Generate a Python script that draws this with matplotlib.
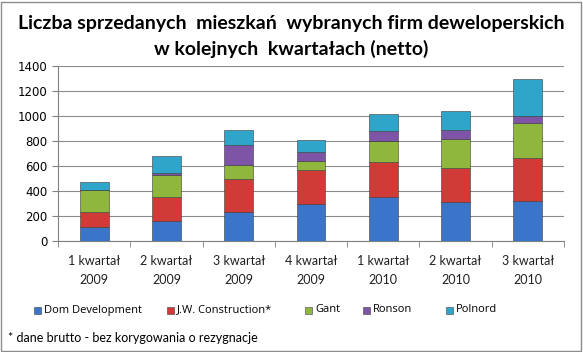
import numpy as np
import matplotlib.pyplot as plt
from matplotlib.patches import Rectangle

# Quarter labels and units sold per developer
quarters = ["1 kwartał\n2009", "2 kwartał\n2009", "3 kwartał\n2009", "4 kwartał\n2009",
            "1 kwartał\n2010", "2 kwartał\n2010", "3 kwartał\n2010"]
dom_development = [110, 160, 235, 300, 350, 315, 323]
jw_construction = [120, 190, 260, 265, 283, 273, 345]
gant = [175, 178, 110, 75, 170, 231, 278]
ronson = [5, 20, 160, 70, 80, 69, 53]
polnord = [60, 135, 120, 100, 130, 156, 297]

series = [
    ("Dom Development", dom_development, "#3a75c9"),
    ("J.W. Construction*", jw_construction, "#d13b37"),
    ("Gant", gant, "#8fb73e"),
    ("Ronson", ronson, "#7e54a6"),
    ("Polnord", polnord, "#2fa6c9"),
]

W, H = 583, 352
fig = plt.figure(figsize=(W / 100, H / 100), dpi=100)
ax = fig.add_axes([58 / W, 1 - 241 / H, (564 - 58) / W, (241 - 66) / H])

x = np.arange(len(quarters))
bottom = np.zeros(len(quarters))
for name, vals, color in series:
    ax.bar(x, vals, bottom=bottom, width=0.4, color=color,
           edgecolor="#3b3b3b", linewidth=0.4, zorder=3)
    bottom += np.array(vals)

ax.set_ylim(0, 1400)
ax.set_yticks(range(0, 1401, 200))
ax.set_xlim(-0.5, len(quarters) - 0.5)
ax.yaxis.grid(True, color="#8c8c8c", linewidth=0.8, zorder=0)
ax.set_xticks(np.arange(len(quarters) + 1) - 0.5, minor=True)
ax.set_xticks(x)
ax.set_xticklabels(quarters, fontfamily="Lato", fontsize=9, linespacing=1.7, color="#202020")
ax.tick_params(axis="x", which="major", length=0, pad=10)
ax.tick_params(axis="x", which="minor", length=4, color="#808080")
ax.tick_params(axis="y", labelsize=8.5, length=4, color="#808080")
for s in ["top", "right"]:
    ax.spines[s].set_visible(False)
ax.spines["left"].set_color("#808080")
ax.spines["bottom"].set_color("#808080")

fig.text(0.5, 1 - 24 / H, "Liczba sprzedanych  mieszkań  wybranych firm deweloperskich",
         ha="center", va="center", fontsize=14, fontweight="bold", fontfamily="Lato")
fig.text(0.5, 1 - 49 / H, "w kolejnych  kwartałach (netto)",
         ha="center", va="center", fontsize=14, fontweight="bold", fontfamily="Lato")

# legend laid out like the Excel original (uneven spacing)
legend_x = [34, 167, 305, 363, 446]
ly = 1 - 310 / H
for (name, _, color), lx in zip(series, legend_x):
    fig.patches.append(Rectangle((lx / W, ly - 3.5 / H), 7 / W, 7 / H, transform=fig.transFigure,
                                 facecolor=color, edgecolor="#404040", linewidth=0.4))
    fig.text((lx + 10) / W, ly, name, ha="left", va="center", fontsize=8, fontfamily="Open Sans")

fig.text(8 / W, 1 - 338 / H, "* dane brutto - bez korygowania o rezygnacje",
         ha="left", va="center", fontsize=9, fontfamily="Lato")

fig.patches.append(Rectangle((1 / W, 1 / H), (W - 3) / W, (H - 3) / H, transform=fig.transFigure,
                             fill=False, edgecolor="#8c8c8c", linewidth=1))

plt.savefig("out.png", dpi=100)
